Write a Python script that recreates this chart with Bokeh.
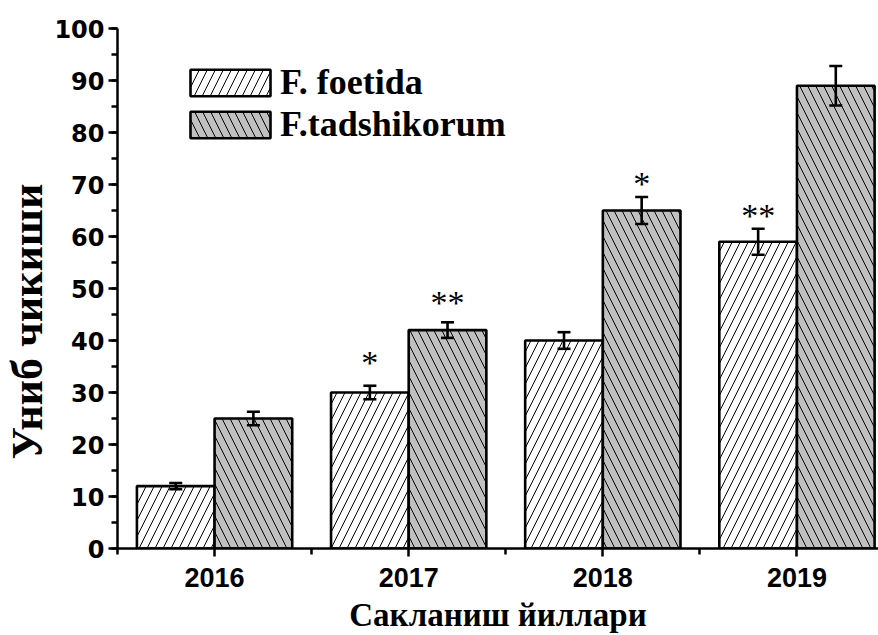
from bokeh.plotting import figure
from bokeh.models import (ColumnDataSource, Whisker, TeeHead, FixedTicker,
                          SingleIntervalTicker, Legend, LegendItem, Range1d, Title)
from bokeh.core.properties import value
from bokeh.embed import file_html
from bokeh.resources import INLINE

years = ["2016", "2017", "2018", "2019"]
foetida = [12, 30, 40, 59]
foetida_err = [0.6, 1.3, 1.6, 2.5]
tadshikorum = [25, 42, 65, 89]
tadshikorum_err = [1.3, 1.5, 2.6, 3.8]

# significance marks: (year, series, text, height in data units)
star_year = ["2017", "2017", "2018", "2019"]
star_series = ["foetida", "tadshikorum", "tadshikorum", "foetida"]
star_text = ["*", "**", "*", "**"]
star_y = [37.0, 48.5, 71.4, 65.1]

BAR_W = 0.4
idx = list(range(len(years)))
x_f = [i - BAR_W / 2 for i in idx]
x_t = [i + BAR_W / 2 for i in idx]

src_f = ColumnDataSource(dict(x=x_f, top=foetida,
                              lo=[v - e for v, e in zip(foetida, foetida_err)],
                              hi=[v + e for v, e in zip(foetida, foetida_err)]))
src_t = ColumnDataSource(dict(x=x_t, top=tadshikorum,
                              lo=[v - e for v, e in zip(tadshikorum, tadshikorum_err)],
                              hi=[v + e for v, e in zip(tadshikorum, tadshikorum_err)]))

sx = [years.index(y) + (-BAR_W / 2 if s == "foetida" else BAR_W / 2)
      for y, s in zip(star_year, star_series)]
src_s = ColumnDataSource(dict(x=sx, y=star_y, text=star_text))

p = figure(width=878, height=635, output_backend="svg", toolbar_location=None,
           x_range=Range1d(-0.5, 3.42), y_range=Range1d(0, 100),
           min_border_left=117, min_border_right=0, min_border_top=28,
           min_border_bottom=84)
p.outline_line_color = None
p.xgrid.visible = False
p.ygrid.visible = False
p.background_fill_color = "white"
p.border_fill_color = "white"

r_f = p.vbar(x="x", top="top", width=BAR_W, bottom=0, source=src_f,
             fill_color="white", line_color="black", line_width=2.6,
             hatch_pattern="right_diagonal_line", hatch_color="black",
             hatch_weight=1, hatch_scale=16)
r_t = p.vbar(x="x", top="top", width=BAR_W, bottom=0, source=src_t,
             fill_color="#c0c0c0", line_color="black", line_width=2.6,
             hatch_pattern="left_diagonal_line", hatch_color="black",
             hatch_weight=1, hatch_scale=16)

for src in (src_f, src_t):
    w = Whisker(base="x", upper="hi", lower="lo", source=src,
                line_color="black", line_width=2.6, level="overlay",
                upper_head=TeeHead(size=13, line_width=2.6, line_color="black"),
                lower_head=TeeHead(size=13, line_width=2.6, line_color="black"))
    p.add_layout(w)

p.text(x="x", y="y", text="text", source=src_s, text_align="center",
       text_baseline="alphabetic", y_offset=6,
       text_font=value("Liberation Serif"), text_font_size="34px",
       text_color="black")

# axes
ya = p.yaxis[0]
ya.ticker = SingleIntervalTicker(interval=10, num_minor_ticks=2)
ya.major_label_text_font = "DejaVu Sans"
ya.major_label_text_font_style = "bold"
ya.major_label_text_font_size = "24px"
ya.major_label_text_color = "black"
ya.major_label_standoff = 4
ya.axis_line_width = 2.5
ya.major_tick_line_width = 2.5
ya.minor_tick_line_width = 2.5
ya.major_tick_out = 9
ya.major_tick_in = 0
ya.minor_tick_out = 6
ya.minor_tick_in = 0

xa = p.xaxis[0]
xa.ticker = FixedTicker(ticks=idx, minor_ticks=[i - 0.5 for i in idx] + [len(idx) - 0.5])
xa.major_label_overrides = {i: y for i, y in zip(idx, years)}
xa.axis_label = "Сакланиш йиллари"
xa.axis_label_text_font = "Liberation Serif"
xa.axis_label_text_font_style = "bold"
xa.axis_label_text_font_size = "33px"
xa.axis_label_text_color = "black"
xa.axis_label_standoff = 7
xa.major_label_text_font = "Liberation Sans"
xa.major_label_text_font_style = "bold"
xa.major_label_text_font_size = "27px"
xa.major_label_text_color = "black"
xa.major_label_standoff = 11
xa.axis_line_width = 2.5
xa.major_tick_line_width = 2.5
xa.minor_tick_line_width = 2.5
xa.major_tick_out = 8
xa.major_tick_in = 0
xa.minor_tick_out = 6
xa.minor_tick_in = 0

ytitle = Title(text="Униб чикиши", align="left", offset=89, standoff=0,
               text_font="Liberation Serif", text_font_style="bold",
               text_font_size="44px", text_color="black")
p.add_layout(ytitle, "left")

legend = Legend(items=[LegendItem(label="F. foetida", renderers=[r_f]),
                       LegendItem(label="F.tadshikorum", renderers=[r_t])],
                location=(63, 403), glyph_width=100, glyph_height=33,
                spacing=-2, padding=0, margin=0, label_standoff=-5,
                label_text_font="Liberation Serif", label_text_font_style="bold",
                label_text_font_size="36px", label_text_color="black",
                border_line_color=None, background_fill_alpha=0)
p.add_layout(legend)

open("out.html", "w").write(file_html(p, INLINE))
